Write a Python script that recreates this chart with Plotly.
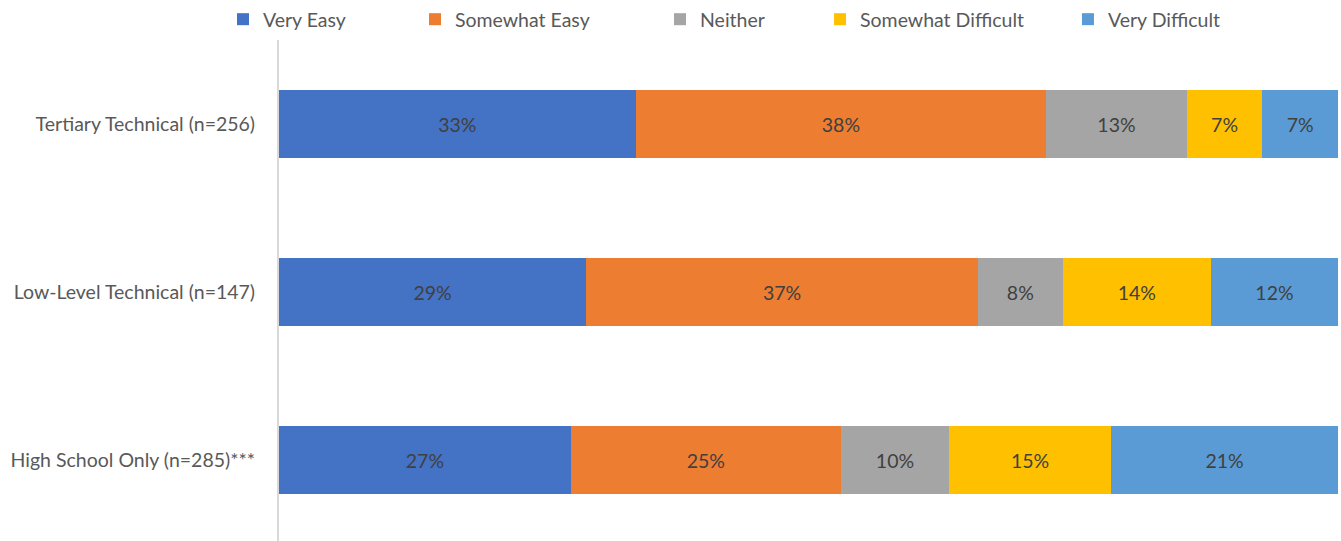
import plotly.graph_objects as go

# Education groups (listed bottom to top)
groups = ["High School Only (n=285)***", "Low-Level Technical (n=147)", "Tertiary Technical (n=256)"]

# Response options and their colours
responses = ["Very Easy", "Somewhat Easy", "Neither", "Somewhat Difficult", "Very Difficult"]
colors = ["#4472C4", "#ED7D31", "#A5A5A5", "#FFC000", "#5B9BD5"]

# Share of respondents (%) per response, in the same order as groups
very_easy = [27, 29, 33]
somewhat_easy = [25, 37, 38]
neither = [10, 8, 13]
somewhat_difficult = [15, 14, 7]
very_difficult = [21, 12, 7]

series = [very_easy, somewhat_easy, neither, somewhat_difficult, very_difficult]

# Legend entry left positions (fraction of the plot width)
legend_x = [-0.0529, 0.1284, 0.3598, 0.5109, 0.7450]

FONT = "Lato, 'Noto Sans', sans-serif"
SIZE = 19.5

fig = go.Figure()
for i, (name, vals, col) in enumerate(zip(responses, series, colors)):
    fig.add_trace(go.Bar(
        y=groups, x=vals, name=name, orientation="h",
        marker=dict(color=col, line=dict(width=0)),
        text=[f"{v}%" for v in vals], textposition="inside",
        insidetextanchor="middle",
        textfont=dict(color="#404040", size=SIZE, family=FONT),
        legend="legend" if i == 0 else f"legend{i+1}",
        showlegend=True,
        hoverinfo="skip",
    ))

layout_legends = {}
for i, lx in enumerate(legend_x):
    key = "legend" if i == 0 else f"legend{i+1}"
    layout_legends[key] = dict(
        x=lx, y=1.0, xanchor="left", yanchor="top", xref="paper", yref="container",
        orientation="h", bgcolor="rgba(0,0,0,0)",
        font=dict(size=SIZE, color="#595959", family=FONT),
        itemwidth=30, tracegroupgap=0,
    )

fig.update_layout(
    barmode="stack", barnorm="percent", bargap=0.6,
    width=1341, height=541,
    margin=dict(l=279, r=3, t=40, b=0),
    paper_bgcolor="white", plot_bgcolor="white",
    font=dict(family=FONT, color="#595959", size=SIZE),
    uniformtext=dict(minsize=10, mode="show"),
    showlegend=True,
    **layout_legends,
)
fig.update_xaxes(range=[0, 100], visible=False, showgrid=False, zeroline=False)
fig.update_yaxes(
    showline=True, linecolor="#D9D9D9", linewidth=2,
    showgrid=False, zeroline=False, ticks="",
    ticklabelstandoff=18,
    tickfont=dict(size=SIZE, color="#595959", family=FONT),
    range=[-0.482, 2.5],
)

fig.write_html("out.html")
